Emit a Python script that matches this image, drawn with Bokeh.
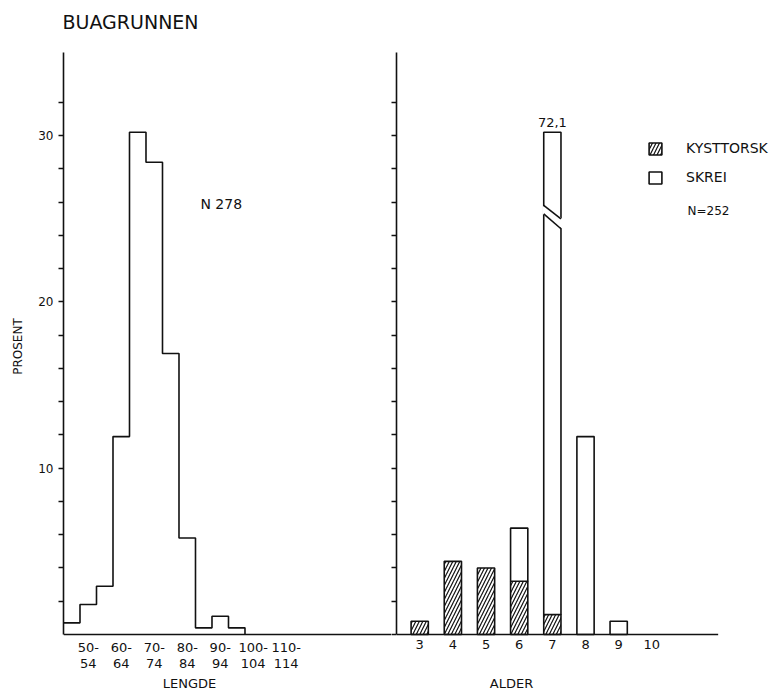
from bokeh.plotting import figure
from bokeh.layouts import row
from bokeh.models import Range1d, FixedTicker, Label, Legend, LegendItem, ColumnDataSource, Span
from bokeh.embed import file_html
from bokeh.resources import INLINE

# ---------------- data ----------------
title_text = "BUAGRUNNEN"

# left panel: length distribution (cm), percent
length_bin_start = [45, 50, 55, 60, 65, 70, 75, 80, 85, 90, 95]
length_pct = [0.7, 1.8, 2.9, 11.9, 30.2, 28.4, 16.9, 5.8, 0.4, 1.1, 0.4]
length_bin_width = 5
length_tick_pos = [52.5, 62.5, 72.5, 82.5, 92.5, 102.5, 112.5]
length_tick_labels = ["50-\n54", "60-\n64", "70-\n74", "80-\n84", "90-\n94", "100-\n104", "110-\n114"]
n_length = 278

# right panel: age distribution, percent
ages = [3, 4, 5, 6, 7, 8, 9, 10]
age_labels = ["3", "4", "5", "6", "7", "8", "9", "10"]
kysttorsk = [0.8, 4.4, 4.0, 3.2, 1.2, 0.0, 0.0, 0.0]
skrei = [0.0, 0.0, 0.0, 3.2, 70.9, 11.9, 0.8, 0.0]
n_age = 252

y_label_ticks = [10, 20, 30]
y_minor_ticks = [2, 4, 6, 8, 12, 14, 16, 18, 22, 24, 26, 28, 32]
y_axis_top = 35

# ---------------- style / layout ----------------
FONT = "DejaVu Sans"
INK = "#111111"
LW = 1.6
Y_CAP = 30.2          # drawn height of a truncated bar
BAR_W = 0.52
BREAK_UPPER = (25.8, 25.0)
BREAK_LOWER = (25.3, 24.4)
H = 692
AXIS_TOP_PX = 52      # canvas y of the top of the y axes
BASE_PX = 634         # canvas y of the baseline
PX = (BASE_PX - AXIS_TOP_PX) / y_axis_top
Y_RANGE = (-(H - BASE_PX) / PX, y_axis_top + AXIS_TOP_PX / PX)
X1 = (45, 144.4)      # length range (cm) of the left frame
X2 = (2.3, 13.88)     # age range of the right frame
AGE_AXIS_END = 12.0


def style(p):
    p.outline_line_color = None
    p.xgrid.grid_line_color = None
    p.ygrid.grid_line_color = None
    p.xaxis.visible = False
    p.background_fill_color = "white"
    p.border_fill_color = "white"


def y_axis(ax, major, minor):
    ax.ticker = FixedTicker(ticks=major, minor_ticks=minor)
    ax.bounds = (0, y_axis_top)
    ax.axis_line_color = INK
    ax.axis_line_width = LW
    ax.major_tick_out = 5
    ax.major_tick_in = 0
    ax.minor_tick_out = 5
    ax.minor_tick_in = 0
    ax.major_tick_line_color = INK
    ax.minor_tick_line_color = INK
    ax.major_tick_line_width = 1.3
    ax.minor_tick_line_width = 1.3
    ax.major_label_text_font = FONT
    ax.major_label_text_color = INK
    ax.axis_label_text_font = FONT
    ax.axis_label_text_color = INK
    ax.axis_label_text_font_style = "normal"


def text(p, x, y, t, size="13px", align="left", baseline="middle", xo=0, yo=0):
    p.add_layout(Label(x=x, y=y, x_offset=xo, y_offset=yo, text=t, text_font=FONT,
                       text_font_size=size, text_color=INK, text_align=align,
                       text_baseline=baseline))


# ---------------- left panel ----------------
p1 = figure(width=391, height=H, x_range=Range1d(*X1), y_range=Range1d(*Y_RANGE),
            output_backend="svg", toolbar_location=None,
            min_border_left=63, min_border_right=0, min_border_top=0, min_border_bottom=0)
style(p1)

edges = length_bin_start + [length_bin_start[-1] + length_bin_width]
heights = length_pct + [0.0]
p1.step(edges, heights, mode="after", line_color=INK, line_width=LW)
p1.add_layout(Span(location=0, dimension="width", line_color=INK, line_width=LW))

p1.text(x=length_tick_pos, y=[0] * len(length_tick_pos), text=length_tick_labels,
        y_offset=5, text_font={"value": FONT}, text_font_size="13px", text_color=INK,
        text_align="center", text_baseline="top", text_line_height=1.1)

ya = p1.yaxis[0]
y_axis(ya, y_label_ticks, y_minor_ticks)
ya.major_label_standoff = 5
ya.major_label_text_font_size = "12px"
ya.axis_label = "PROSENT"
ya.axis_label_text_font_size = "12px"
ya.axis_label_standoff = 10

text(p1, X1[0], y_axis_top, title_text, size="19px", baseline="alphabetic", xo=-1, yo=31)
text(p1, 86.5, 25.9, f"N {n_length}", size="14px")
text(p1, X1[0], 0, "LENGDE", align="center", baseline="top", xo=126, yo=-41)

# ---------------- right panel ----------------
p2 = figure(width=389, height=H, x_range=Range1d(*X2), y_range=Range1d(*Y_RANGE),
            output_backend="svg", toolbar_location=None,
            min_border_left=5, min_border_right=0, min_border_top=0, min_border_bottom=0)
style(p2)

k_src = ColumnDataSource(dict(
    x=[a for a, k in zip(ages, kysttorsk) if k > 0],
    top=[k for k in kysttorsk if k > 0]))
s_x, s_bot, s_top = [], [], []
for a, k, s in zip(ages, kysttorsk, skrei):
    if s > 0:
        s_x.append(a)
        s_bot.append(k)
        s_top.append(min(k + s, Y_CAP))
s_src = ColumnDataSource(dict(x=s_x, bottom=s_bot, top=s_top))

rk = p2.vbar(x="x", top="top", bottom=0, width=BAR_W, source=k_src,
             fill_color="white", line_color=INK, line_width=LW,
             hatch_pattern="/", hatch_color=INK, hatch_scale=7, hatch_weight=1.2)
rs = p2.vbar(x="x", top="top", bottom="bottom", width=BAR_W, source=s_src,
             fill_color="white", line_color=INK, line_width=LW)

# break mark on truncated bars
for a, k, s in zip(ages, kysttorsk, skrei):
    total = k + s
    if total > Y_CAP:
        xl, xr = a - BAR_W / 2, a + BAR_W / 2
        pad = 0.04
        p2.patch([xl - pad, xr + pad, xr + pad, xl - pad],
                 [BREAK_UPPER[0], BREAK_UPPER[1], BREAK_LOWER[1], BREAK_LOWER[0]],
                 fill_color="white", line_color=None)
        p2.line([xl, xr], list(BREAK_UPPER), line_color=INK, line_width=LW)
        p2.line([xl, xr], list(BREAK_LOWER), line_color=INK, line_width=LW)
        text(p2, a, Y_CAP, f"{total:.1f}".replace(".", ","), align="center",
             baseline="bottom", yo=5)

# baseline (x axis line) and age tick labels
p2.segment(x0=[X2[0]], y0=[0], x1=[AGE_AXIS_END], y1=[0], line_color=INK, line_width=LW)
p2.text(x=ages, y=[0] * len(ages), text=age_labels, y_offset=5,
        text_font={"value": FONT}, text_font_size="13px", text_color=INK,
        text_align="center", text_baseline="top")

ya2 = p2.yaxis[0]
y_axis(ya2, [], [0] + y_minor_ticks + y_label_ticks)
ya2.major_label_standoff = 0

legend = Legend(items=[LegendItem(label="KYSTTORSK", renderers=[rk]),
                       LegendItem(label="SKREI", renderers=[rs])],
                location=(251, H - 185), orientation="vertical",
                glyph_width=16, glyph_height=15, label_height=15, label_width=60,
                spacing=13, label_standoff=23, padding=0, margin=0,
                border_line_color=None, background_fill_alpha=0,
                label_text_font=FONT, label_text_font_size="14px", label_text_color=INK)
p2.add_layout(legend)

text(p2, X2[0], 0, f"N={n_age}", size="12px", xo=291, yo=424)
text(p2, X2[0], 0, "ALDER", align="center", baseline="top", xo=115, yo=-41)

layout = row(p1, p2)
open("out.html", "w").write(file_html(layout, INLINE))
